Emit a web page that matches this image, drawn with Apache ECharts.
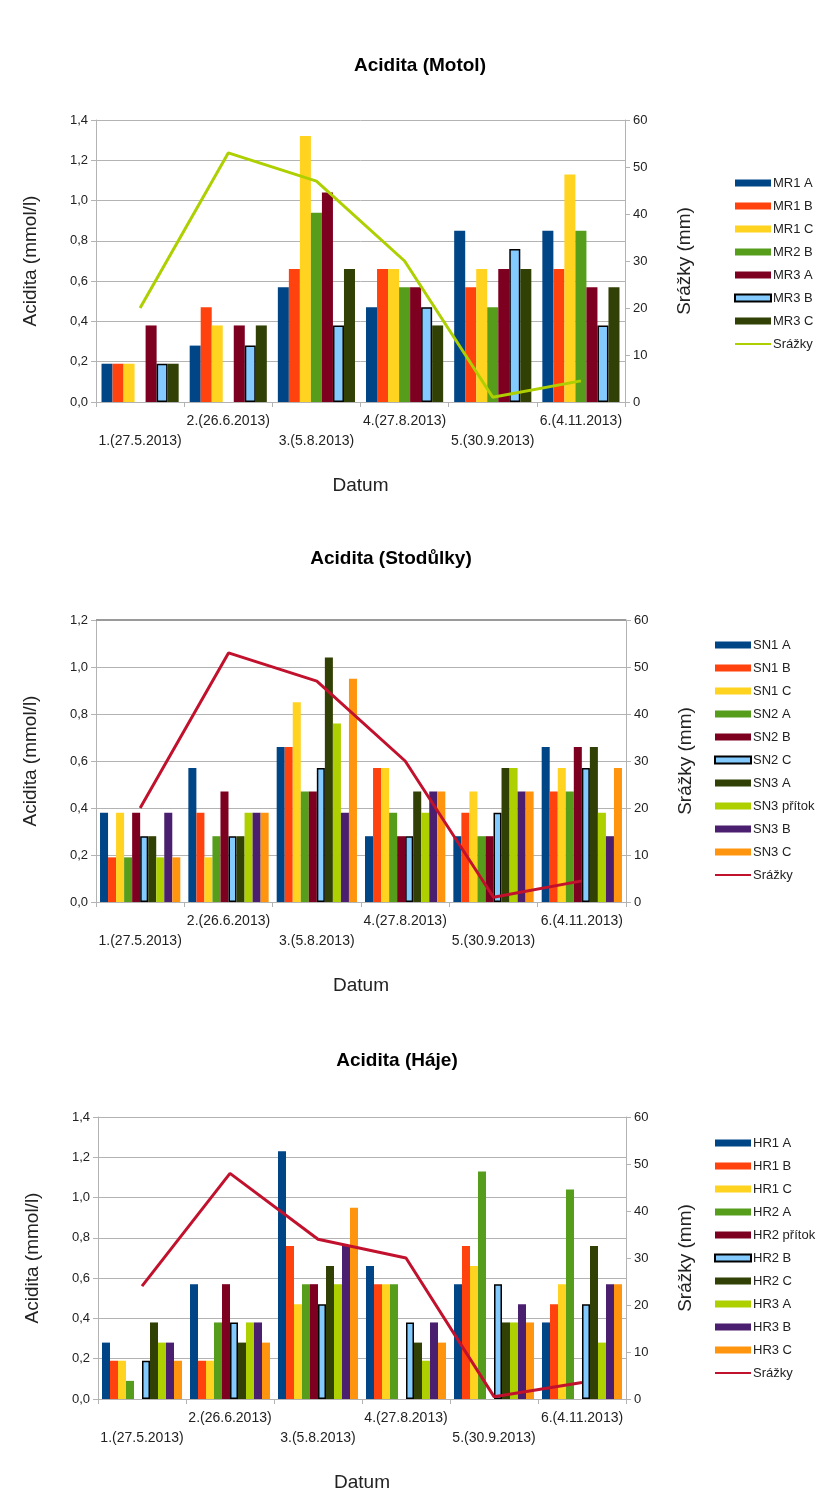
<!DOCTYPE html>
<html>
<head>
<meta charset="utf-8">
<script src="https://cdn.jsdelivr.net/npm/echarts@6/dist/echarts.min.js"></script>
<style>
  html, body { margin: 0; padding: 0; background: #fff; }
  #wrap { position: relative; width: 822px; height: 1497px; }
  .chart { position: absolute; left: 0; width: 822px; }
</style>
</head>
<body>
<div id="wrap">
  <div id="motol" class="chart" style="top:0;height:500px"></div>
  <div id="stodulky" class="chart" style="top:500px;height:500px"></div>
  <div id="haje" class="chart" style="top:1000px;height:497px"></div>
</div>
<script>
// Sampling dates (shared x axis of all three charts)
const categories = ['1.(27.5.2013)', '2.(26.6.2013)', '3.(5.8.2013)', '4.(27.8.2013)', '5.(30.9.2013)', '6.(4.11.2013)'];

// Left axis ticks (mmol/l) and right axis ticks (mm)
const acidityTicksMotol = [0, 0.2, 0.4, 0.6, 0.8, 1.0, 1.2, 1.4];
const acidityTicksStodulky = [0, 0.2, 0.4, 0.6, 0.8, 1.0, 1.2];
const acidityTicksHaje = [0, 0.2, 0.4, 0.6, 0.8, 1.0, 1.2, 1.4];
const rainTicks = [0, 10, 20, 30, 40, 50, 60];

// --- Motol ---
const motolNames = ['MR1 A', 'MR1 B', 'MR1 C', 'MR2 B', 'MR3 A', 'MR3 B', 'MR3 C'];
const mr1A = [0.19, 0.28, 0.57, 0.47, 0.85, 0.85];
const mr1B = [0.19, 0.47, 0.66, 0.66, 0.57, 0.66];
const mr1C = [0.19, 0.38, 1.32, 0.66, 0.66, 1.13];
const mr2B = [null, null, 0.94, 0.57, 0.47, 0.85];
const mr3A = [0.38, 0.38, 1.04, 0.57, 0.66, 0.57];
const mr3B = [0.19, 0.28, 0.38, 0.47, 0.76, 0.38];
const mr3C = [0.19, 0.38, 0.66, 0.38, 0.66, 0.57];
const motolRain = [20, 53, 47, 30, 1, 4.5];

// --- Stodůlky ---
const stodulkyNames = ['SN1 A', 'SN1 B', 'SN1 C', 'SN2 A', 'SN2 B', 'SN2 C', 'SN3 A', 'SN3 přítok', 'SN3 B', 'SN3 C'];
const sn1A = [0.38, 0.57, 0.66, 0.28, 0.28, 0.66];
const sn1B = [0.19, 0.38, 0.66, 0.57, 0.38, 0.47];
const sn1C = [0.38, 0.19, 0.85, 0.57, 0.47, 0.57];
const sn2A = [0.19, 0.28, 0.47, 0.38, 0.28, 0.47];
const sn2B = [0.38, 0.47, 0.47, 0.28, 0.28, 0.66];
const sn2C = [0.28, 0.28, 0.57, 0.28, 0.38, 0.57];
const sn3A = [0.28, 0.28, 1.04, 0.47, 0.57, 0.66];
const sn3Pritok = [0.19, 0.38, 0.76, 0.38, 0.57, 0.38];
const sn3B = [0.38, 0.38, 0.38, 0.47, 0.47, 0.28];
const sn3C = [0.19, 0.38, 0.95, 0.47, 0.47, 0.57];
const stodulkyRain = [20, 53, 47, 30, 1, 4.5];

// --- Háje ---
const hajeNames = ['HR1 A', 'HR1 B', 'HR1 C', 'HR2 A', 'HR2 přítok', 'HR2 B', 'HR2 C', 'HR3 A', 'HR3 B', 'HR3 C'];
const hr1A = [0.28, 0.57, 1.23, 0.66, 0.57, 0.38];
const hr1B = [0.19, 0.19, 0.76, 0.57, 0.76, 0.47];
const hr1C = [0.19, 0.19, 0.47, 0.57, 0.66, 0.57];
const hr2A = [0.09, 0.38, 0.57, 0.57, 1.13, 1.04];
const hr2Pritok = [null, 0.57, 0.57, null, null, null];
const hr2B = [0.19, 0.38, 0.47, 0.38, 0.57, 0.47];
const hr2C = [0.38, 0.28, 0.66, 0.28, 0.38, 0.76];
const hr3A = [0.28, 0.38, 0.57, 0.19, 0.38, 0.28];
const hr3B = [0.28, 0.38, 0.76, 0.38, 0.47, 0.57];
const hr3C = [0.19, 0.28, 0.95, 0.28, 0.38, 0.57];
const hajeRain = [24, 48, 34, 30, 0.5, 3.5];

// Office-style series palette
const palette = ['#004586', '#ff420e', '#ffd320', '#579d1c', '#7e0021', '#83caff', '#314004', '#aecf00', '#4b1f6f', '#ff950e', '#c1112d'];
const outlinedColor = '#83caff';

const FONT = '"Liberation Sans", Arial, sans-serif';
const GRID_GREY = '#b3b3b3';
const TEXT = '#222';

// Thin horizontal stroke used as the legend key of the precipitation line;
// the two tiny corner squares pin the icon box to the full key height.
const LINE_KEY_ICON = 'path://M0,0h0.01v0.01h-0.01Z M0,2.5h36v2h-36Z M35.99,6.99h0.01v0.01h-0.01Z';

function commaLabel(v) {
  return v.toFixed(1).replace('.', ',');
}

function buildOption(c) {
  const series = c.names.map((name, i) => {
    const color = c.colors[i];
    const itemStyle = color === outlinedColor
      ? { color: color, borderColor: '#000', borderWidth: 1.5 }
      : { color: color };
    return {
      name: name,
      type: 'bar',
      data: c.values[i],
      itemStyle: itemStyle,
      barGap: '0%',
      barCategoryGap: c.catGap,
      emphasis: { disabled: true },
      z: 2
    };
  });

  // Darker frame line along the top of the plot, where the chart has one
  if (c.topFrame) {
    series[0].markLine = {
      silent: true,
      symbol: ['none', 'none'],
      label: { show: false },
      lineStyle: { color: '#9a9a9a', width: 2, type: 'solid' },
      data: [{ yAxis: c.yTicks[c.yTicks.length - 1] }]
    };
  }

  series.push({
    name: 'Srážky',
    type: 'line',
    yAxisIndex: 1,
    data: c.rain,
    symbol: 'none',
    showSymbol: false,
    lineStyle: { color: c.rainColor, width: 3 },
    itemStyle: { color: c.rainColor },
    emphasis: { disabled: true },
    z: 5
  });

  const legendData = c.names.map(n => ({ name: n, icon: 'rect' }));
  legendData.push({ name: 'Srážky', icon: LINE_KEY_ICON, itemStyle: { color: c.rainColor, borderWidth: 0 } });

  const yTicks = c.yTicks;
  return {
    animation: false,
    backgroundColor: '#fff',
    textStyle: { fontFamily: FONT },
    title: {
      text: c.title,
      left: c.titleX,
      top: c.titleTop,
      textAlign: 'center',
      textStyle: { fontFamily: FONT, fontSize: 19, fontWeight: 'bold', color: '#000' }
    },
    legend: {
      orient: 'vertical',
      left: c.legendLeft,
      top: c.legendTop,
      padding: 0,
      itemWidth: 36,
      itemHeight: 7,
      itemGap: 9,
      data: legendData,
      selectedMode: false,
      textStyle: { fontFamily: FONT, fontSize: 13, lineHeight: 14, color: TEXT, padding: [0, 0, 0, -3] }
    },
    grid: {
      left: c.grid.left,
      top: c.grid.top,
      width: c.grid.width,
      height: c.grid.height,
      containLabel: false
    },
    xAxis: {
      type: 'category',
      data: categories,
      boundaryGap: true,
      axisLine: { show: true, lineStyle: { color: GRID_GREY, width: 1 } },
      axisTick: { show: true, length: 5, lineStyle: { color: GRID_GREY } },
      axisLabel: {
        interval: 0,
        margin: 9,
        fontFamily: FONT,
        fontSize: 14,
        lineHeight: 20,
        color: TEXT,
        formatter: (v, i) => (i % 2 === 0 ? '\n' + v : v)
      },
      name: 'Datum',
      nameLocation: 'middle',
      nameGap: 74,
      nameTextStyle: { fontFamily: FONT, fontSize: 19, color: TEXT }
    },
    yAxis: [
      {
        type: 'value',
        min: yTicks[0],
        max: yTicks[yTicks.length - 1],
        interval: yTicks[1] - yTicks[0],
        axisLine: { show: true, lineStyle: { color: GRID_GREY } },
        axisTick: { show: true, length: 5, lineStyle: { color: GRID_GREY } },
        axisLabel: { margin: 8, fontFamily: FONT, fontSize: 13, color: TEXT, formatter: commaLabel },
        splitLine: { show: true, lineStyle: { color: GRID_GREY, width: 1 } },
        name: 'Acidita (mmol/l)',
        nameLocation: 'middle',
        nameRotate: 90,
        nameGap: 56,
        nameTextStyle: { fontFamily: FONT, fontSize: 19, color: TEXT }
      },
      {
        type: 'value',
        position: 'right',
        min: rainTicks[0],
        max: rainTicks[rainTicks.length - 1],
        interval: rainTicks[1] - rainTicks[0],
        axisLine: { show: true, lineStyle: { color: GRID_GREY } },
        axisTick: { show: true, length: 5, lineStyle: { color: GRID_GREY } },
        axisLabel: { margin: 8, fontFamily: FONT, fontSize: 13, color: TEXT },
        splitLine: { show: false },
        name: 'Srážky (mm)',
        nameLocation: 'middle',
        nameRotate: 90,
        nameGap: 50,
        nameTextStyle: { fontFamily: FONT, fontSize: 19, color: TEXT }
      }
    ],
    series: series
  };
}

const charts = [
  {
    el: 'motol',
    title: 'Acidita (Motol)', titleX: 415, titleTop: 51,
    names: motolNames,
    values: [mr1A, mr1B, mr1C, mr2B, mr3A, mr3B, mr3C],
    colors: palette.slice(0, 7),
    rain: motolRain, rainColor: palette[7],
    yTicks: acidityTicksMotol,
    catGap: '12.5%',
    grid: { left: 96, top: 120, width: 529, height: 289 },
    legendLeft: 734, legendTop: 176,
    topFrame: false
  },
  {
    el: 'stodulky',
    title: 'Acidita (Stodůlky)', titleX: 386, titleTop: 44,
    names: stodulkyNames,
    values: [sn1A, sn1B, sn1C, sn2A, sn2B, sn2C, sn3A, sn3Pritok, sn3B, sn3C],
    colors: palette.slice(0, 10),
    rain: stodulkyRain, rainColor: palette[10],
    yTicks: acidityTicksStodulky,
    catGap: '9.1%',
    grid: { left: 96, top: 120, width: 530, height: 285 },
    legendLeft: 714, legendTop: 138,
    topFrame: true
  },
  {
    el: 'haje',
    title: 'Acidita (Háje)', titleX: 392, titleTop: 46,
    names: hajeNames,
    values: [hr1A, hr1B, hr1C, hr2A, hr2Pritok, hr2B, hr2C, hr3A, hr3B, hr3C],
    colors: palette.slice(0, 10),
    rain: hajeRain, rainColor: palette[10],
    yTicks: acidityTicksHaje,
    catGap: '9.1%',
    grid: { left: 98, top: 117, width: 528, height: 285 },
    legendLeft: 714, legendTop: 136,
    topFrame: false
  }
];

charts.forEach(c => {
  const chart = echarts.init(document.getElementById(c.el), null, { renderer: 'canvas' });
  chart.setOption(buildOption(c));
});
</script>
</body>
</html>
